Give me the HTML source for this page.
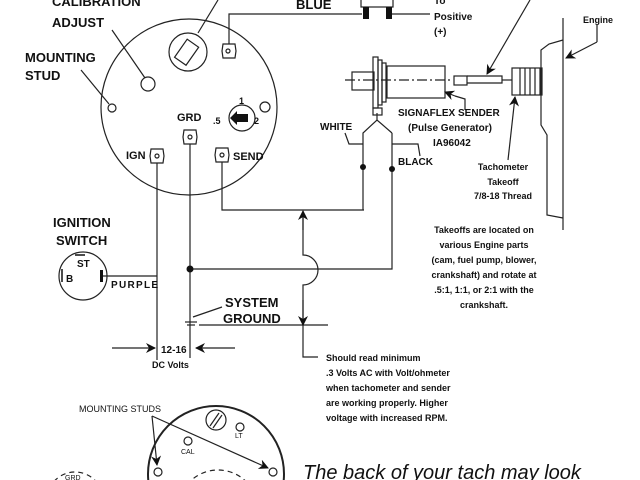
<!DOCTYPE html>
<html><head><style>
html,body{margin:0;padding:0;background:#fff;width:640px;height:480px;overflow:hidden;}
svg{display:block;overflow:hidden;}
text{font-family:"Liberation Sans",sans-serif;font-weight:bold;fill:#111;}
</style></head><body>
<svg width="640" height="480" viewBox="0 0 640 480" xmlns="http://www.w3.org/2000/svg">
<defs>
<marker id="ah" markerWidth="10" markerHeight="10" refX="9" refY="5" orient="auto" markerUnits="userSpaceOnUse"><path d="M0,0 L10,5 L0,10 L3,5 Z" fill="#111"/></marker>
</defs>
<g fill="none" stroke="#222" stroke-width="1.2">
<circle cx="189" cy="107" r="88"/>
<circle cx="188" cy="52" r="19"/>
<rect x="180" y="42" width="14" height="22" transform="rotate(35 188 52)"/>
<line x1="198" y1="33" x2="218" y2="0"/>
<circle cx="148" cy="84" r="7"/>
<circle cx="112" cy="108" r="4"/>
<circle cx="265" cy="107" r="5"/>
<line x1="112" y1="30" x2="145" y2="78"/>
<line x1="81" y1="70" x2="109" y2="104"/>
<circle cx="242" cy="118" r="13"/>
<g>
<polygon points="222,44 234,44 235,51 234,58 222,58 221,51" transform="translate(1 0)"/><circle cx="228" cy="51" r="2"/>
<polygon points="184,130 196,130 197,137 196,144 184,144 183,137"/><circle cx="190" cy="137" r="2"/>
<polygon points="151,149 163,149 164,156 163,163 151,163 150,156"/><circle cx="157" cy="156" r="2"/>
<polygon points="216,148 228,148 229,155 228,162 216,162 215,155"/><circle cx="222" cy="155" r="2"/>
</g>
<polyline points="229,44 229,14 362,14"/>
<line x1="391" y1="14" x2="430" y2="14"/>
<rect x="361" y="-2" width="32" height="9"/>
<polyline points="222,162 222,210 364,210"/>
<line x1="157" y1="163" x2="157" y2="360"/>
<line x1="190" y1="144" x2="190" y2="358"/>
<line x1="101" y1="276" x2="157" y2="276"/>
<polyline points="190,269 392,269 392,133"/>
<polyline points="363,210 363,133 377,120 392,133"/>
<line x1="377" y1="120" x2="377" y2="113"/>
<path d="M303,212 V255 A15,15 0 0 1 303,285 V357 H318"/>
<line x1="199" y1="325" x2="328" y2="325"/>
<line x1="193" y1="317" x2="222" y2="307"/>
<line x1="185" y1="322" x2="197" y2="322"/><line x1="187" y1="325" x2="195" y2="325"/>
<polyline points="345,133 349,144 363,144"/>
<polyline points="392,144 418,144 420,156"/>
<line x1="112" y1="348" x2="155" y2="348" marker-end="url(#ah)"/>
<line x1="235" y1="348" x2="196" y2="348" marker-end="url(#ah)"/>
<circle cx="83" cy="276" r="24"/>
<line x1="345" y1="80" x2="450" y2="80" stroke-dasharray="10,3,2,3"/>
<rect x="352" y="72" width="22" height="18"/>
<rect x="373" y="57" width="5" height="51"/>
<rect x="378" y="60" width="4" height="45"/>
<rect x="382" y="63" width="4" height="39"/>
<rect x="373" y="108" width="9" height="7"/>
<rect x="387" y="66" width="58" height="32"/>
<rect x="454" y="76" width="13" height="9"/>
<path d="M467,76 H502 V83 H467"/>
<line x1="502" y1="80" x2="512" y2="80"/>
<rect x="512" y="68" width="30" height="27"/>
<line x1="520" y1="68" x2="520" y2="95"/><line x1="525" y1="68" x2="525" y2="95"/><line x1="530" y1="68" x2="530" y2="95"/><line x1="535" y1="68" x2="535" y2="95"/><line x1="540" y1="68" x2="540" y2="95"/>
<line x1="563" y1="18" x2="563" y2="230"/>
<path d="M563,40 L549,44 L541,50 L541,125 L547,135 L547,215 L563,218"/>
<polyline points="597,25 597,42"/>
<line x1="597" y1="42" x2="566" y2="58" marker-end="url(#ah)"/>
<line x1="530" y1="0" x2="487" y2="74" marker-end="url(#ah)"/>
<polyline points="465,110 465,99 455,96"/>
<line x1="455" y1="96" x2="445" y2="92" marker-end="url(#ah)"/>
<line x1="508" y1="160" x2="515" y2="97" marker-end="url(#ah)"/>
<line x1="303" y1="230" x2="303" y2="211" marker-end="url(#ah)"/>
<line x1="303" y1="300" x2="303" y2="325" marker-end="url(#ah)"/>
<circle cx="216" cy="474" r="68" stroke-width="2"/>
<circle cx="216" cy="420" r="10"/>
<line x1="210" y1="426" x2="219" y2="413"/><line x1="213" y1="428" x2="222" y2="415"/>
<circle cx="240" cy="427" r="4"/>
<circle cx="188" cy="441" r="4"/>
<circle cx="158" cy="472" r="4"/>
<circle cx="273" cy="472" r="4"/>
<line x1="152" y1="416" x2="157" y2="465" marker-end="url(#ah)"/>
<line x1="152" y1="416" x2="268" y2="468" marker-end="url(#ah)"/>
<circle cx="75" cy="500" r="28" stroke-dasharray="5,4"/>
<circle cx="218" cy="510" r="40" stroke-dasharray="5,4"/>
</g>
<rect x="363" y="7" width="6" height="12" fill="#111"/>
<rect x="386" y="7" width="6" height="12" fill="#111"/>
<circle cx="190" cy="269" r="3.5" fill="#111"/>
<circle cx="363" cy="167" r="3" fill="#111"/>
<circle cx="392" cy="169" r="3" fill="#111"/>
<path d="M248,114 H237 V111 L230,118 L237,125 V122 H248 Z" fill="#111"/>
<rect x="100" y="270" width="3" height="12" fill="#111"/>
<line x1="62" y1="269" x2="62" y2="282" stroke="#111" stroke-width="1.5"/>
<line x1="75" y1="255" x2="85" y2="255" stroke="#111" stroke-width="1.5"/>
<g font-size="13">
<text x="52" y="6">CALIBRATION</text>
<text x="52" y="27">ADJUST</text>
<text x="25" y="62">MOUNTING</text>
<text x="25" y="80">STUD</text>
<text x="296" y="9">BLUE</text>
<text x="53" y="227">IGNITION</text>
<text x="56" y="245">SWITCH</text>
<text x="225" y="307">SYSTEM</text>
<text x="223" y="323">GROUND</text>
</g>
<g font-size="11">
<text x="239" y="104" font-size="9">1</text>
<text x="213" y="124" font-size="9">.5</text>
<text x="254" y="124" font-size="9">2</text>
<text x="177" y="121">GRD</text>
<text x="126" y="159">IGN</text>
<text x="233" y="160">SEND</text>
<text x="66" y="282" font-size="10">B</text>
<text x="77" y="267" font-size="10">ST</text>
<text x="111" y="288" font-size="10" textLength="47">PURPLE</text>
<text x="320" y="130" font-size="10">WHITE</text>
<text x="398" y="165" font-size="10">BLACK</text>
<text x="434" y="4" font-size="10">To</text>
<text x="434" y="20" font-size="10">Positive</text>
<text x="434" y="35" font-size="10">(+)</text>
<text x="583" y="23" font-size="9">Engine</text>
<text x="398" y="116" font-size="10">SIGNAFLEX SENDER</text>
<text x="408" y="131" font-size="10">(Pulse Generator)</text>
<text x="433" y="146" font-size="10">IA96042</text>
<g font-size="9" text-anchor="middle">
<text x="503" y="170">Tachometer</text>
<text x="503" y="185">Takeoff</text>
<text x="503" y="199">7/8-18 Thread</text>
<text x="484" y="233">Takeoffs are located on</text>
<text x="484" y="248">various Engine parts</text>
<text x="484" y="263">(cam, fuel pump, blower,</text>
<text x="484" y="278">crankshaft) and rotate at</text>
<text x="484" y="293">.5:1, 1:1, or 2:1 with the</text>
<text x="484" y="308">crankshaft.</text>
</g>
<text x="161" y="353" font-size="10">12-16</text>
<text x="152" y="368" font-size="9">DC Volts</text>
<g font-size="9">
<text x="326" y="361">Should read minimum</text>
<text x="326" y="376">.3 Volts AC with Volt/ohmeter</text>
<text x="326" y="391">when tachometer and sender</text>
<text x="326" y="406">are working properly. Higher</text>
<text x="326" y="421">voltage with increased RPM.</text>
</g>
<g>
<text x="79" y="412" font-size="9" style="font-weight:normal">MOUNTING STUDS</text>
<text x="181" y="454" font-size="7" style="font-weight:normal">CAL</text>
<text x="235" y="438" font-size="7" style="font-weight:normal">LT</text>
<text x="65" y="480" font-size="7" style="font-weight:normal">GRD</text>
<text x="303" y="479" font-size="20" font-style="italic" style="font-weight:normal">The back of your tach may look</text>
</g>
</g>
</svg>
</body></html>
